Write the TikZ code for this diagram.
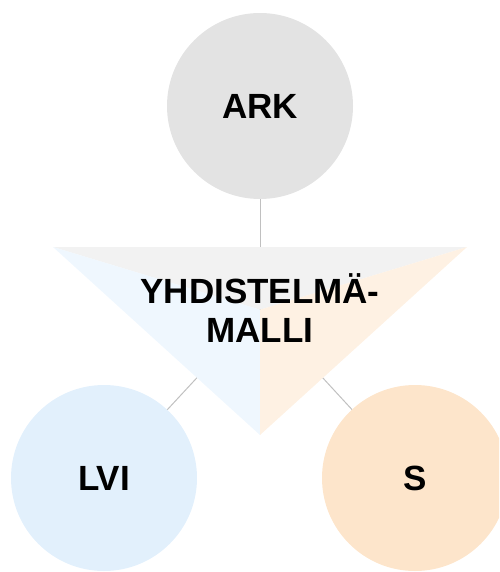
\documentclass[tikz,border=0pt]{standalone}
\usepackage{fontspec}
\setmainfont{Liberation Sans}
\usepackage{tikz}

\definecolor{arkgray}{HTML}{E3E3E3}
\definecolor{lviblue}{HTML}{E2F0FC}
\definecolor{speach}{HTML}{FDE5CB}
\definecolor{topgray}{HTML}{F2F2F2}
\definecolor{leftblue}{HTML}{EFF7FE}
\definecolor{rightpeach}{HTML}{FEF1E3}
\definecolor{linkgray}{HTML}{C0C0C0}

\begin{document}
\begin{tikzpicture}[x=1pt,y=-1pt,
		ball/.style={circle,minimum size=186pt,inner sep=0pt,font=\fontsize{35}{39}\selectfont\bfseries},
		link/.style={draw=linkgray,line width=1pt}]
		\useasboundingbox (0,0) rectangle (499,572);
		\clip (0,0) rectangle (499,572);

		% circles
		\node[ball,fill=arkgray] (ark) at (260,106) {ARK};
		\node[ball,fill=lviblue] (lvi) at (104,478) {LVI};
		\node[ball,fill=speach] (s) at (415,478) {S};

		% triangle corners
		\coordinate (tl) at (53,247);
		\coordinate (tr) at (467,247);
		\coordinate (bot) at (260,435);
		\coordinate (mid) at (260,309.7);

		\draw[link] (ark) -- (mid);
		\draw[link] (lvi) -- (mid);
		\draw[link] (s) -- (mid);

		\fill[topgray] (tl) -- (tr) -- (mid) -- cycle;
		\fill[leftblue] (tl) -- (mid) -- (bot) -- cycle;
		\fill[rightpeach] (tr) -- (mid) -- (bot) -- cycle;

		\node[align=center,font=\fontsize{35}{39}\selectfont\bfseries] (yhd) at (260,308.5) {YHDISTELMÄ-\\MALLI};

	\end{tikzpicture}
\end{document}
